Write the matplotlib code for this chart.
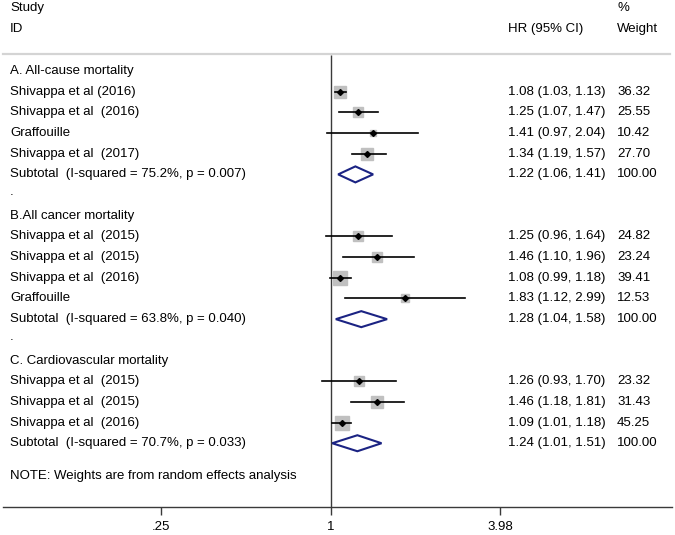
import matplotlib
matplotlib.use("Agg")
import matplotlib.pyplot as plt
from matplotlib.patches import Polygon
import numpy as np

# study labels, HR, lower CI, upper CI, % weight
groups = ["A. All-cause mortality", "B.All cancer mortality", "C. Cardiovascular mortality"]

study_a = ["Shivappa et al (2016)", "Shivappa et al  (2016)", "Graffouille", "Shivappa et al  (2017)"]
hr_a = [1.08, 1.25, 1.41, 1.34]
lo_a = [1.03, 1.07, 0.97, 1.19]
hi_a = [1.13, 1.47, 2.04, 1.57]
wt_a = [36.32, 25.55, 10.42, 27.70]

study_b = ["Shivappa et al  (2015)", "Shivappa et al  (2015)", "Shivappa et al  (2016)", "Graffouille"]
hr_b = [1.25, 1.46, 1.08, 1.83]
lo_b = [0.96, 1.10, 0.99, 1.12]
hi_b = [1.64, 1.96, 1.18, 2.99]
wt_b = [24.82, 23.24, 39.41, 12.53]

study_c = ["Shivappa et al  (2015)", "Shivappa et al  (2015)", "Shivappa et al  (2016)"]
hr_c = [1.26, 1.46, 1.09]
lo_c = [0.93, 1.18, 1.01]
hi_c = [1.70, 1.81, 1.18]
wt_c = [23.32, 31.43, 45.25]

sub_labels = ["Subtotal  (I-squared = 75.2%, p = 0.007)",
              "Subtotal  (I-squared = 63.8%, p = 0.040)",
              "Subtotal  (I-squared = 70.7%, p = 0.033)"]
sub_hr = [1.22, 1.28, 1.24]
sub_lo = [1.06, 1.04, 1.01]
sub_hi = [1.41, 1.58, 1.51]

tick_vals = [0.25, 1, 3.98]
tick_labels = [".25", "1", "3.98"]

# layout in pixels
W, H = 675, 535
x_null = 331.0
px_per_ln = 122.6
row0, dy = 71.0, 20.68
x_label, x_hr, x_wt = 10, 508, 617
axis_y = 507
FS = 9.5
NAVY = "#1b2383"

plt.rcParams["font.family"] = ["Liberation Sans", "DejaVu Sans"]
fig = plt.figure(figsize=(W / 100, H / 100), dpi=100)
ax = fig.add_axes([0, 0, 1, 1])
ax.set_xscale("log")
ax.set_xlim(np.exp(-x_null / px_per_ln), np.exp((W - x_null) / px_per_ln))
ax.set_ylim(H, 0)
ax.axis("off")
tr = ax.get_yaxis_transform()  # x in axes fraction, y in data


def txt(xpix, y, s, **kw):
    ax.text(xpix / W, y, s, transform=tr, fontsize=FS, va="center", ha="left", **kw)


# headers
txt(x_label, 8, "Study")
txt(x_label, 29, "ID")
txt(x_hr, 29, "HR (95% CI)")
txt(x_wt, 8, "%")
txt(x_wt, 29, "Weight")
ax.axhline(54, xmin=3 / W, xmax=670 / W, color="#d4d4d4", lw=1.6)

# null line
ax.vlines(1, 55, axis_y, color="#3a3a3a", lw=1.0)

all_groups = [
    (study_a, hr_a, lo_a, hi_a, wt_a),
    (study_b, hr_b, lo_b, hi_b, wt_b),
    (study_c, hr_c, lo_c, hi_c, wt_c),
]

row = 0
for g, (names, hrs, los, his, wts) in enumerate(all_groups):
    y = row0 + row * dy
    txt(x_label, y, groups[g])
    row += 1
    for name, hr, lo, hi, w in zip(names, hrs, los, his, wts):
        y = row0 + row * dy
        txt(x_label, y, name)
        txt(x_hr, y, f"{hr:.2f} ({lo:.2f}, {hi:.2f})")
        txt(x_wt, y, f"{w:.2f}")
        side = 2.15 * np.sqrt(w) * 0.72
        ax.plot(hr, y, marker="s", ms=side, mfc="#c0c0c0", mec="#c0c0c0", zorder=2)
        ax.plot([lo, hi], [y, y], color="black", lw=1.2, zorder=3)
        ax.plot(hr, y, marker="D", ms=3.0, color="black", zorder=4)
        row += 1
    y = row0 + row * dy
    txt(x_label, y, sub_labels[g])
    txt(x_hr, y, f"{sub_hr[g]:.2f} ({sub_lo[g]:.2f}, {sub_hi[g]:.2f})")
    txt(x_wt, y, "100.00")
    dia = Polygon([[sub_lo[g], y], [sub_hr[g], y - 8], [sub_hi[g], y], [sub_hr[g], y + 8]],
                  closed=True, fc="white", ec=NAVY, lw=1.5, zorder=3)
    ax.add_patch(dia)
    row += 1
    if g < 2:
        txt(x_label, row0 + row * dy - 3, ".")
        row += 1

txt(x_label, 476, "NOTE: Weights are from random effects analysis")

# x axis
ax.axhline(axis_y, xmin=3 / W, xmax=672 / W, color="#3a3a3a", lw=1.0)
ax.vlines(tick_vals, axis_y, axis_y + 8, color="#3a3a3a", lw=1.0)
for t, lab in zip(tick_vals, tick_labels):
    ax.text(t, 527, lab, fontsize=FS, ha="center", va="center")

fig.savefig("out.png", dpi=100)
